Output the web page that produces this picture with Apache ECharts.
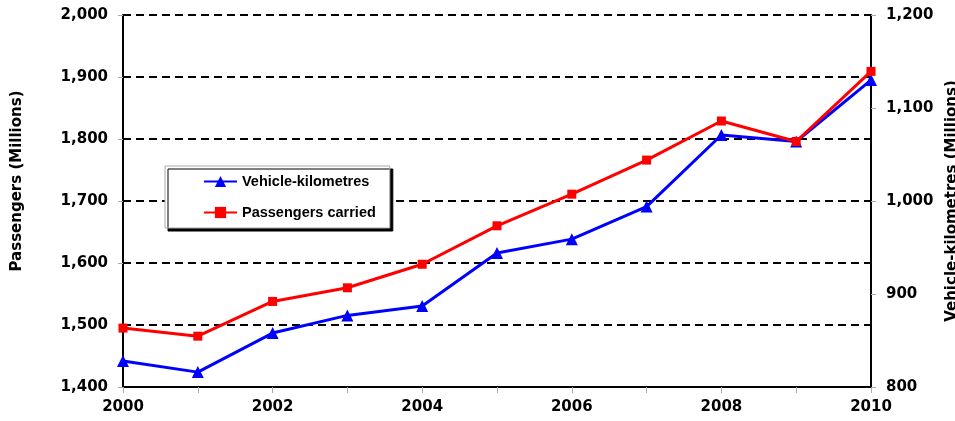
<!DOCTYPE html>
<html>
<head>
<meta charset="utf-8">
<script src="https://cdn.jsdelivr.net/npm/echarts@6/dist/echarts.min.js"></script>
<style>
  html, body { margin: 0; padding: 0; background: #fff; }
  #chart { width: 955px; height: 421px; }
</style>
</head>
<body>
<div id="chart"></div>
<script>
  // years on the x axis
  var years = ['2000', '2001', '2002', '2003', '2004', '2005', '2006', '2007', '2008', '2009', '2010']
  // passengers carried, millions (left axis)
  var passengers = [1495, 1482, 1538, 1560, 1598, 1660, 1711, 1766, 1829, 1796, 1909]
  // vehicle-kilometres, millions (right axis)
  var vehicleKm = [828, 816, 858, 877, 887, 944, 959, 994, 1071, 1064, 1130]

  var axisFont = 'DejaVu Sans, Verdana, sans-serif'
  var legendFont = 'Liberation Sans, Arial, sans-serif'
  var chart = echarts.init(document.getElementById('chart'))

  var labelStyle = {
    margin: 15,
    fontSize: 15,
    fontWeight: 'bold',
    color: '#000',
    fontFamily: axisFont,
    formatter: function (v) { return v.toLocaleString('en-US') }
  }

  var options = {
    animation: false,
    textStyle: { fontFamily: axisFont },
    grid: { left: 123, right: 84, top: 15, bottom: 34, outerBoundsMode: 'none' },
    legend: {
      orient: 'vertical',
      left: 165,
      top: 166,
      padding: [8, 14, 8, 38],
      itemWidth: 33,
      itemHeight: 14,
      itemGap: 16,
      backgroundColor: '#fff',
      borderColor: '#aaa',
      borderWidth: 1,
      shadowColor: '#000',
      shadowOffsetX: 3,
      shadowOffsetY: 3,
      shadowBlur: 0,
      textStyle: { fontSize: 14.5, fontWeight: 'bold', color: '#000', fontFamily: legendFont },
      data: ['Vehicle-kilometres', 'Passengers carried']
    },
    xAxis: {
      type: 'category',
      boundaryGap: false,
      data: years,
      axisLine: { lineStyle: { color: '#000', width: 2 } },
      axisTick: { show: true, interval: 0, length: 6, lineStyle: { color: '#aaa' } },
      axisLabel: {
        interval: 1,
        margin: 13,
        fontSize: 15,
        fontWeight: 'bold',
        color: '#000',
        fontFamily: axisFont
      },
      splitLine: { show: false }
    },
    yAxis: [
      {
        type: 'value',
        name: 'Passengers (Millions)',
        nameLocation: 'middle',
        nameGap: 98,
        nameTextStyle: { fontSize: 15, fontWeight: 'bold', color: '#000', fontFamily: axisFont, padding: [0, 0, 0, 40] },
        min: 1400,
        max: 2000,
        interval: 100,
        axisLine: { show: true, lineStyle: { color: '#000', width: 2 } },
        axisTick: { show: true, length: 5, lineStyle: { color: '#aaa' } },
        axisLabel: labelStyle,
        splitLine: { show: true, lineStyle: { color: '#000', width: 2, type: [8, 5] } }
      },
      {
        type: 'value',
        name: 'Vehicle-kilometres (Millions)',
        nameLocation: 'middle',
        nameGap: 60,
        nameRotate: 90,
        nameTextStyle: { fontSize: 15, fontWeight: 'bold', color: '#000', fontFamily: axisFont },
        min: 800,
        max: 1200,
        interval: 100,
        axisLine: { show: true, lineStyle: { color: '#000', width: 2 } },
        axisTick: { show: true, length: 5, lineStyle: { color: '#aaa' } },
        axisLabel: labelStyle,
        splitLine: { show: false }
      }
    ],
    series: [
      {
        name: 'Vehicle-kilometres',
        type: 'line',
        yAxisIndex: 1,
        data: vehicleKm,
        symbol: 'triangle',
        symbolSize: 12,
        itemStyle: { color: '#0000ff' },
        lineStyle: { color: '#0000ff', width: 3 }
      },
      {
        name: 'Passengers carried',
        type: 'line',
        yAxisIndex: 0,
        data: passengers,
        symbol: 'rect',
        symbolSize: 9,
        itemStyle: { color: '#ff0000' },
        lineStyle: { color: '#ff0000', width: 3 }
      }
    ]
  }
  chart.setOption(options)
</script>
</body>
</html>
